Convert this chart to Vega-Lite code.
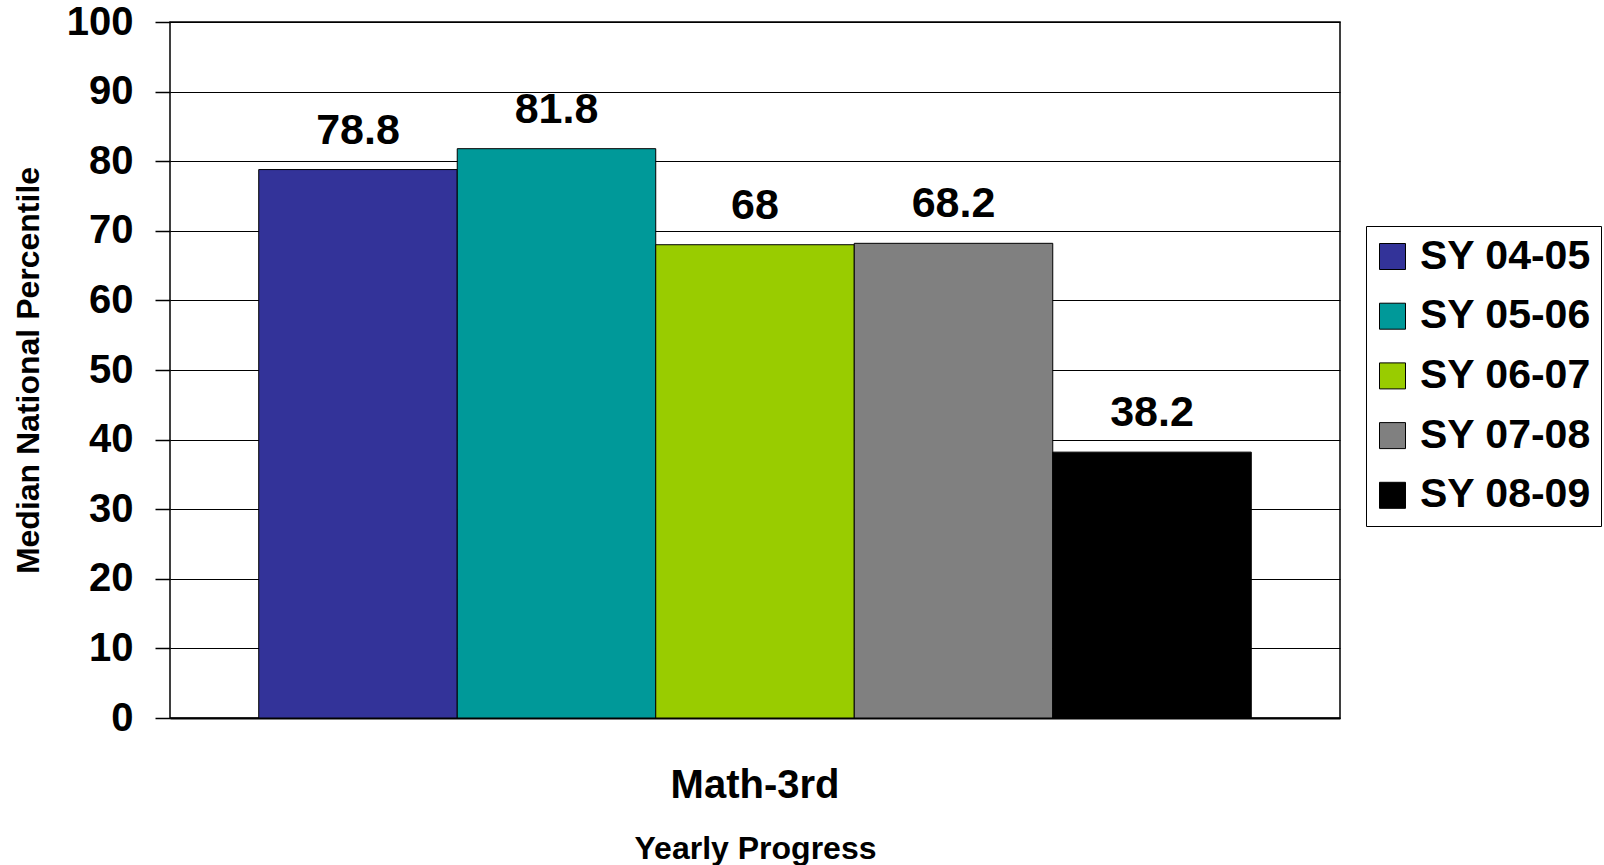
{
  "$schema": "https://vega.github.io/schema/vega-lite/v6.json",
  "width": 1170,
  "height": 696,
  "autosize": {"type": "none"},
  "padding": {"left": 170, "top": 22, "right": 264, "bottom": 147},
  "background": "#ffffff",
  "config": {
    "view": {"stroke": "#000000", "strokeWidth": 1.5},
    "font": "Liberation Sans"
  },
  "data": {
    "values": [
      {"subject": "Math-3rd", "year": "SY 04-05", "value": 78.8},
      {"subject": "Math-3rd", "year": "SY 05-06", "value": 81.8},
      {"subject": "Math-3rd", "year": "SY 06-07", "value": 68},
      {"subject": "Math-3rd", "year": "SY 07-08", "value": 68.2},
      {"subject": "Math-3rd", "year": "SY 08-09", "value": 38.2}
    ]
  },
  "encoding": {
    "x": {
      "field": "subject",
      "type": "nominal",
      "title": "Yearly Progress",
      "scale": {"paddingOuter": 0.0894, "paddingInner": 0},
      "axis": {
        "labelAngle": 0,
        "labelFont": "Liberation Sans",
        "labelFontSize": 40,
        "labelFontWeight": "bold",
        "labelColor": "#000000",
        "labelBaseline": "alphabetic",
        "labelPadding": 79,
        "ticks": false,
        "tickSize": 0,
        "domain": true,
        "domainColor": "#000000",
        "domainWidth": 2,
        "titleFont": "Liberation Sans",
        "titleFontSize": 32,
        "titleFontWeight": "bold",
        "titleColor": "#000000",
        "titleBaseline": "alphabetic",
        "titleAnchor": "middle",
        "titleX": 585,
        "titleY": 140
      }
    },
    "xOffset": {
      "field": "year",
      "type": "nominal",
      "scale": {"paddingInner": 0, "paddingOuter": 0}
    },
    "y": {
      "field": "value",
      "type": "quantitative",
      "title": "Median National Percentile",
      "scale": {"domain": [0, 100], "nice": false},
      "axis": {
        "values": [0, 10, 20, 30, 40, 50, 60, 70, 80, 90, 100],
        "grid": true,
        "gridColor": "#000000",
        "gridWidth": 1,
        "gridOpacity": 1,
        "domain": false,
        "ticks": true,
        "tickSize": 15,
        "tickColor": "#000000",
        "tickWidth": 1.5,
        "labelPadding": 22,
        "labelFont": "Liberation Sans",
        "labelFontSize": 40,
        "labelFontWeight": "bold",
        "labelColor": "#000000",
        "titleFont": "Liberation Sans",
        "titleFontSize": 32,
        "titleFontWeight": "bold",
        "titleColor": "#000000",
        "titleAngle": -90,
        "titleAlign": "center",
        "titleBaseline": "alphabetic",
        "titleX": -132,
        "titleY": 348
      }
    }
  },
  "layer": [
    {
      "mark": {"type": "bar", "stroke": "#000000", "strokeWidth": 1, "opacity": 1},
      "encoding": {
        "color": {
          "field": "year",
          "type": "nominal",
          "scale": {
            "domain": ["SY 04-05", "SY 05-06", "SY 06-07", "SY 07-08", "SY 08-09"],
            "range": ["#333399", "#009999", "#99CC00", "#808080", "#000000"]
          },
          "legend": {
            "title": null,
            "orient": "none",
            "legendX": 1196,
            "legendY": 204,
            "symbolType": "square",
            "symbolSize": 676,
            "symbolStrokeColor": "#000000",
            "symbolStrokeWidth": 1,
            "symbolOpacity": 1,
            "symbolOffset": -4,
            "labelFont": "Liberation Sans",
            "labelFontSize": 41,
            "labelFontWeight": "bold",
            "labelColor": "#000000",
            "labelOffset": 7,
            "labelLimit": 400,
            "rowPadding": 17.7,
            "padding": 10,
            "strokeColor": "#000000",
            "fillColor": "#ffffff"
          }
        }
      }
    },
    {
      "mark": {
        "type": "text",
        "font": "Liberation Sans",
        "fontSize": 43,
        "fontWeight": "bold",
        "color": "#000000",
        "baseline": "alphabetic",
        "align": "center",
        "dy": -26
      },
      "encoding": {
        "text": {"field": "value", "type": "nominal"}
      }
    }
  ]
}
